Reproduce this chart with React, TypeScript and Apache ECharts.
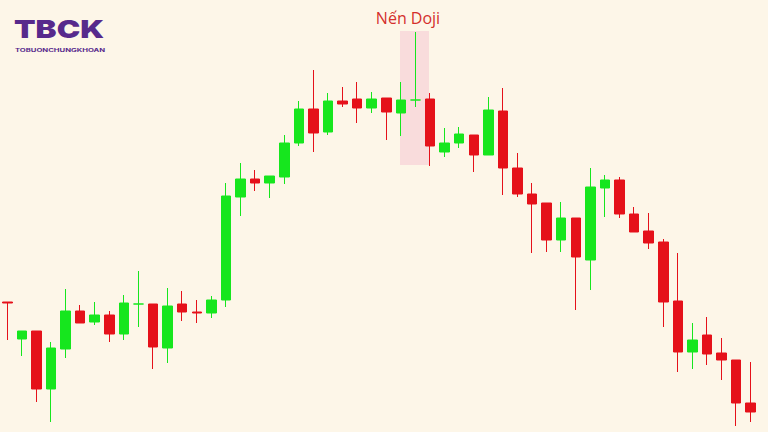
import React, { useEffect, useRef } from "react";
import * as echarts from "echarts";

// Candle index labels
const categories: string[] = Array.from({ length: 52 }, (_, i) => `P${i + 1}`);

// [open, close, low, high] (price units)
const opens = [130, 93, 101, 43, 83, 121, 110, 117, 98, 128, 128, 84, 128, 120, 119, 132, 235, 253, 249, 255, 289, 323, 300, 331, 333, 324, 334, 319, 332, 333, 280, 289, 297, 277, 321, 264, 238, 229, 192, 214, 172, 244, 252, 218, 201, 190, 131, 80, 97, 79, 72, 29];
const closes = [129, 101, 43, 84, 121, 109, 117, 98, 129, 128, 85, 126, 120, 119, 132, 236, 253, 249, 256, 289, 323, 299, 331, 328, 324, 333, 320, 332, 332, 286, 289, 298, 277, 322, 264, 238, 228, 192, 214, 175, 245, 252, 218, 200, 189, 130, 80, 92, 78, 72, 29, 20];
const lows = [92, 76, 30, 10, 74, 109, 107, 90, 92, 105, 63, 69, 111, 109, 114, 125, 216, 241, 234, 248, 286, 280, 297, 325, 309, 319, 292, 296, 325, 266, 275, 284, 260, 277, 237, 235, 179, 180, 180, 122, 142, 215, 214, 200, 183, 105, 60, 63, 67, 52, 6, 10];
const highs = [130, 101, 101, 90, 143, 127, 130, 121, 137, 161, 128, 144, 141, 132, 136, 249, 269, 262, 256, 297, 331, 362, 339, 345, 350, 340, 334, 350, 400, 339, 304, 305, 297, 335, 344, 279, 249, 229, 230, 214, 264, 257, 255, 225, 219, 193, 179, 109, 115, 94, 72, 70];

const annotationText = "Nến Doji";
const logoText = "TBCK";
const logoSubText = "TOBUONCHUNGKHOAN";

const GREEN = "#16e61e";
const RED = "#e5111a";

export default function App() {
  const ref = useRef<HTMLDivElement | null>(null);

  useEffect(() => {
    if (!ref.current) return;
    const chart = echarts.init(ref.current, undefined, { renderer: "svg" });
    const data = opens.map((o, i) => [o, closes[i], lows[i], highs[i]]);
    chart.setOption({
      animation: false,
      backgroundColor: "#fdf6e8",
      grid: { left: -1, right: 10, top: 0, bottom: 0 },
      xAxis: {
        type: "category",
        data: categories,
        show: false,
        boundaryGap: true,
      },
      yAxis: {
        type: "value",
        min: 0,
        max: 432,
        show: false,
        splitLine: { show: false },
      },
      graphic: [
        {
          type: "rect",
          z: 0,
          shape: { x: 400, y: 31, width: 29, height: 134 },
          style: { fill: "#f9dcdc" },
        },
        {
          type: "text",
          z: 10,
          x: 408,
          y: 18,
          style: {
            text: annotationText,
            fill: "#d42f2c",
            font: '16px "Open Sans", sans-serif',
            align: "center",
            verticalAlign: "middle",
          },
        },
        {
          type: "text",
          z: 10,
          x: 14,
          y: 29,
          scaleX: 1.26,
          style: {
            text: logoText,
            fill: "#57298c",
            font: '900 25px Inter, sans-serif',
            align: "left",
            verticalAlign: "middle",
          },
        },
        {
          type: "text",
          z: 10,
          x: 15,
          y: 51,
          scaleX: 1.6,
          style: {
            text: logoSubText,
            fill: "#57298c",
            font: 'bold 4.8px Inter, sans-serif',
            align: "left",
            verticalAlign: "middle",
          },
        },
      ],
      series: [
        {
          type: "candlestick",
          data,
          barWidth: 10,
          z: 5,
          itemStyle: {
            color: GREEN,
            color0: RED,
            borderColor: GREEN,
            borderColor0: RED,
            borderColorDoji: GREEN,
            borderWidth: 1,
          },
        },
      ],
    });
    return () => chart.dispose();
  }, []);

  return (
    <div
      ref={ref}
      style={{ position: "fixed", left: 0, top: 0, width: 768, height: 432 }}
    />
  );
}
